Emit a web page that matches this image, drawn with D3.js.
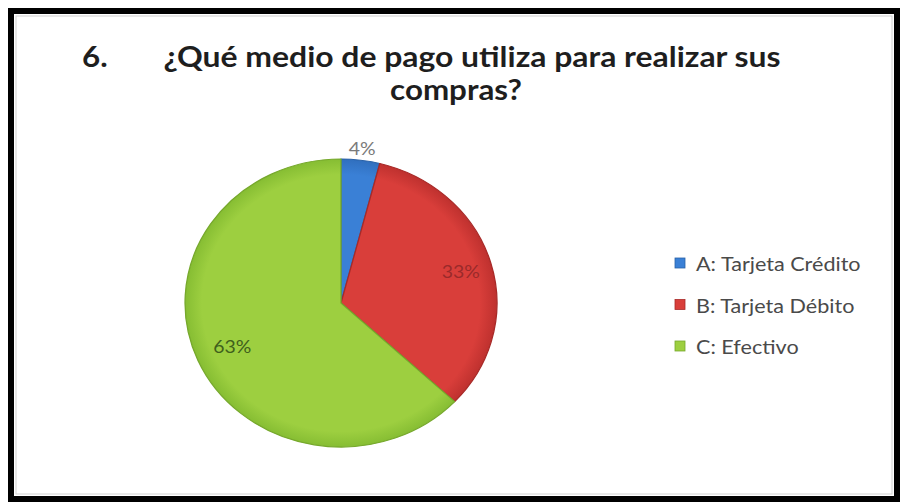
<!DOCTYPE html>
<html>
<head>
<meta charset="utf-8">
<script src="https://cdn.jsdelivr.net/npm/d3@7"></script>
<style>
  html, body { margin: 0; padding: 0; background: #fff; }
  svg { display: block; }
</style>
</head>
<body>
<svg id="chart" width="900" height="504"></svg>
<script>
// Survey answers: payment method used for purchases
const categories = ["A: Tarjeta Crédito", "B: Tarjeta Débito", "C: Efectivo"];
const values = [4, 33, 63];
const labels = ["4%", "33%", "63%"];
const colors = ["#3a80d6", "#d93e3a", "#9dcf40"];
const darkColors = ["#2a62a8", "#a82a28", "#76a82c"];
const labelColors = ["#7a7a7a", "#9a2a2a", "#3f5f1c"];

const titleNumber = "6.";
const titleLines = ["¿Qué medio de pago utiliza para realizar sus", "compras?"];

const svg = d3.select("#chart");
const font = "Lato, 'Open Sans', 'Liberation Sans', sans-serif";
const stretch = 1.08;   // text is drawn slightly wide, like the pie

function addText(x, y, str, opts) {
  const t = svg.append("text")
    .attr("transform", `translate(${x},${y}) scale(${opts.sx || stretch},1)`)
    .attr("font-family", font)
    .attr("font-size", opts.size)
    .attr("font-weight", opts.weight || 400)
    .attr("fill", opts.fill)
    .attr("text-anchor", opts.anchor || "start")
    .text(str);
  if (opts.central) t.attr("dominant-baseline", "central");
  return t;
}

// Outer frame
svg.append("rect").attr("x", 11).attr("y", 11).attr("width", 886).attr("height", 488)
  .attr("fill", "#fff").attr("stroke", "#000").attr("stroke-width", 6);
svg.append("rect").attr("x", 16).attr("y", 16).attr("width", 876).attr("height", 478)
  .attr("fill", "none").attr("stroke", "#d0d0d0").attr("stroke-width", 1);

// Title
addText(82, 67, titleNumber, { size: 29, weight: 700, fill: "#1e1e1e" });
addText(472, 67, titleLines[0], { size: 29, weight: 700, fill: "#1e1e1e", anchor: "middle", sx: 1.1 });
addText(456, 100, titleLines[1], { size: 29, weight: 700, fill: "#1e1e1e", anchor: "middle" });

// Gradients for a soft shaded look on each slice
const defs = svg.append("defs");
colors.forEach((c, i) => {
  const g = defs.append("radialGradient").attr("id", "grad" + i)
    .attr("gradientUnits", "userSpaceOnUse")
    .attr("cx", 0).attr("cy", 0).attr("r", 146);
  g.append("stop").attr("offset", "0%").attr("stop-color", c);
  g.append("stop").attr("offset", "88%").attr("stop-color", c);
  g.append("stop").attr("offset", "100%").attr("stop-color", d3.color(darkColors[i]).brighter(0.3));
});

// Pie
const cx = 341, cy = 303, ry = 144, sx = 1.083;
const pie = d3.pie().sort(null).value(d => d)(values);
const arc = d3.arc().innerRadius(0).outerRadius(ry);
const g = svg.append("g").attr("transform", `translate(${cx},${cy}) scale(${sx},1)`);
g.selectAll("path").data(pie).join("path")
  .attr("d", arc)
  .attr("fill", (d, i) => `url(#grad${i})`)
  .attr("stroke", (d, i) => darkColors[i])
  .attr("stroke-width", 1.2)
  .attr("stroke-linejoin", "round");

// Data labels
const labelPos = [
  d3.arc().innerRadius(ry + 12).outerRadius(ry + 12),
  d3.arc().innerRadius(ry * 0.8).outerRadius(ry * 0.8),
  d3.arc().innerRadius(ry * 0.76).outerRadius(ry * 0.76)
];
pie.forEach((d, i) => {
  const [x, y] = labelPos[i].centroid(d);
  addText(cx + x * sx, cy + y, labels[i],
    { size: 18, fill: labelColors[i], anchor: "middle", central: true });
});

// Legend
categories.forEach((c, i) => {
  const y = 263 + i * 41.5;
  svg.append("rect").attr("x", 675).attr("y", y - 5).attr("width", 10).attr("height", 10)
    .attr("fill", colors[i]).attr("stroke", darkColors[i]).attr("stroke-width", 0.8);
  addText(696, y, c, { size: 20, fill: "#4a4a4a", central: true });
});
</script>
</body>
</html>
